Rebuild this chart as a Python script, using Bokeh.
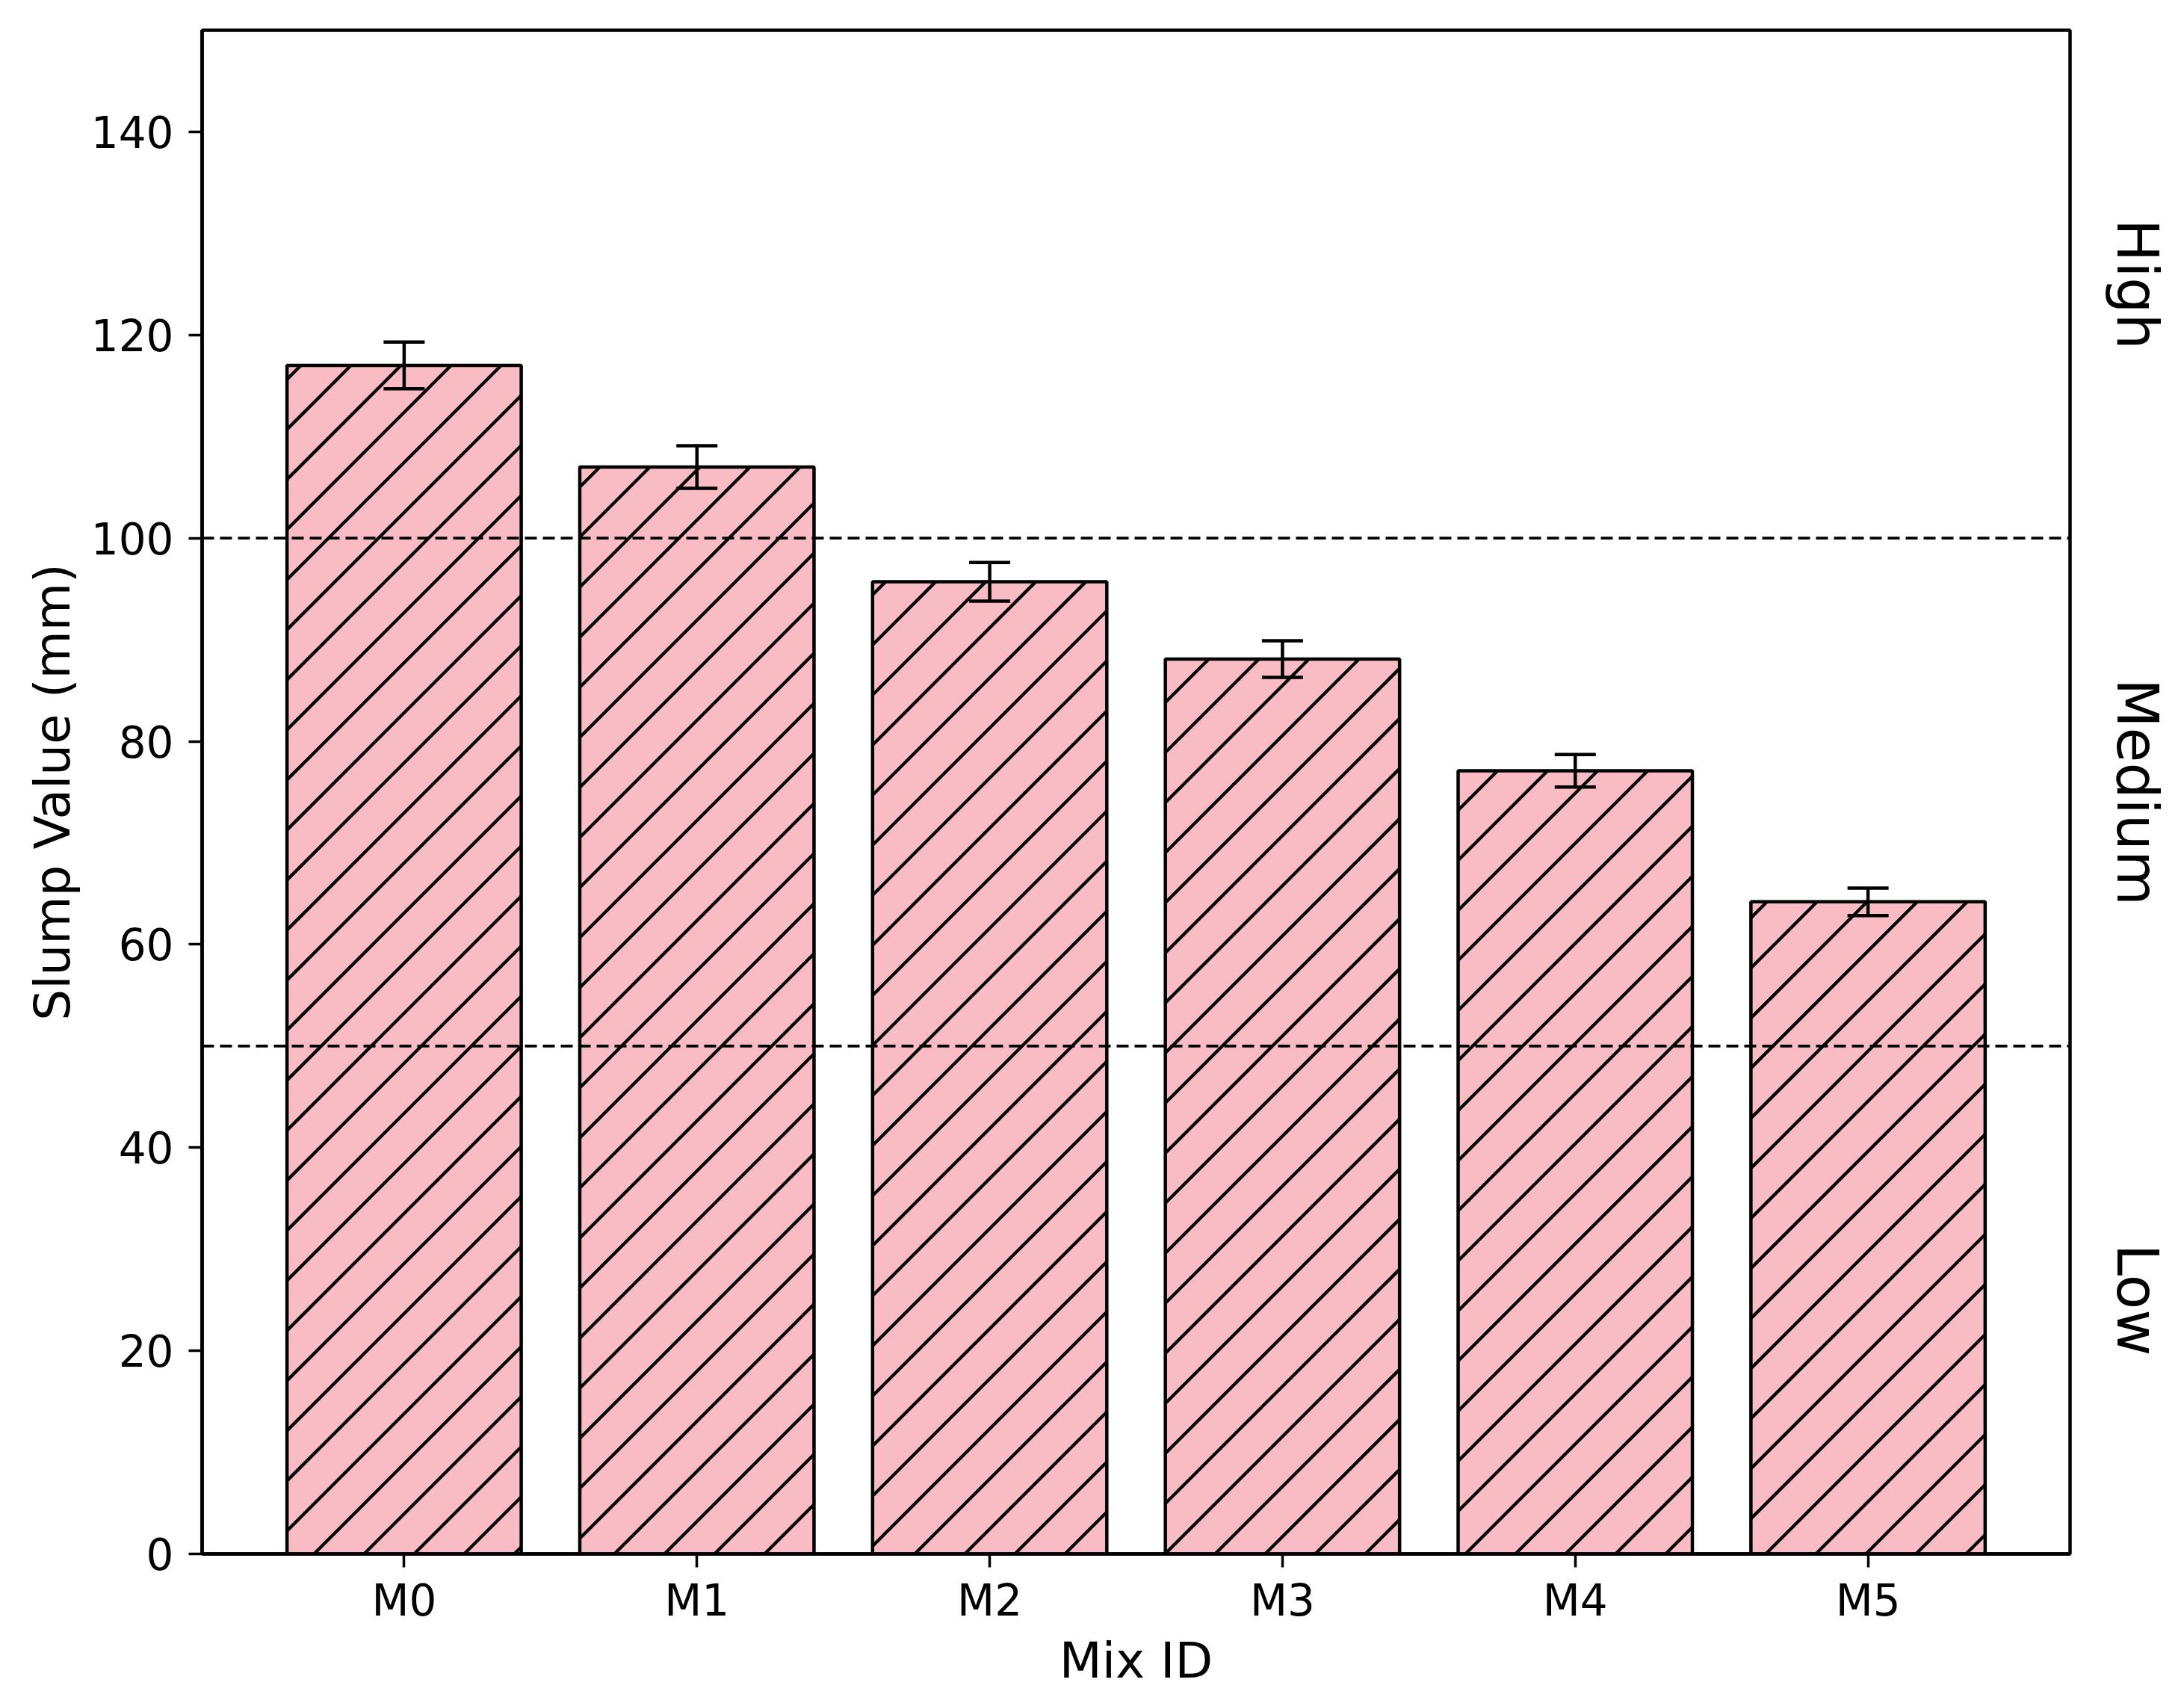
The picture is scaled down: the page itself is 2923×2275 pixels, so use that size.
from bokeh.plotting import figure
from bokeh.models import (ColumnDataSource, Range1d, FixedTicker, Span,
                          Whisker, TeeHead, LinearAxis)
from bokeh.embed import file_html
from bokeh.resources import INLINE

categories = ["M0", "M1", "M2", "M3", "M4", "M5"]
slump = [117.0, 107.0, 95.7, 88.1, 77.1, 64.2]
slump_err = [2.3, 2.1, 1.9, 1.8, 1.6, 1.35]
y_ticks = [0, 20, 40, 60, 80, 100, 120, 140]
thresholds = [100, 50]
zone_names = ["High", "Medium", "Low"]
zone_centers = [125, 75, 25]

FONT = "DejaVu Sans"
BAR_W = 0.8
xs = list(range(len(categories)))
X0, X1 = -0.69, len(categories) - 1 + 0.69
Y0, Y1 = 0, 150
FW, FH = 2500, 2039

src = ColumnDataSource(dict(
    x=xs, top=slump,
    upper=[v + e for v, e in zip(slump, slump_err)],
    lower=[v - e for v, e in zip(slump, slump_err)],
))

# 45-degree "/" hatch lines, clipped to each bar (derived from the bar data)
px_x = FW / (X1 - X0)
px_y = FH / (Y1 - Y0)
k = px_x / px_y               # data-y per data-x for a 45deg screen line
step = 67 / px_x              # ~67 px horizontal spacing
phase = 0.2 * step
hx, hy = [], []
for xc, top in zip(xs, slump):
    bx0, bx1 = xc - BAR_W / 2, xc + BAR_W / 2
    n0 = int((bx0 - top / k) // step) - 2
    n1 = int(bx1 // step) + 2
    for n in range(n0, n1 + 1):
        c = n * step + phase
        xa = max(bx0, c)
        xb = min(bx1, c + top / k)
        if xb - xa > 1e-6:
            hx.append([xa, xb])
            hy.append([k * (xa - c), k * (xb - c)])

p = figure(output_backend="svg", toolbar_location=None,
           frame_width=FW, frame_height=FH,
           min_border_left=270, min_border_top=40,
           min_border_right=140, min_border_bottom=186,
           x_range=Range1d(X0, X1), y_range=Range1d(Y0, Y1))

p.vbar(x="x", top="top", bottom=0, width=BAR_W, source=src,
       fill_color="#f9bbc4", line_color=None)
p.multi_line(hx, hy, line_color="black", line_width=4.3)
p.vbar(x="x", top="top", bottom=0, width=BAR_W, source=src,
       fill_color=None, line_color="black", line_width=4.5)

w = Whisker(base="x", upper="upper", lower="lower", source=src,
            level="overlay", line_color="black", line_width=4.5,
            upper_head=TeeHead(size=55, line_color="black", line_width=4.5),
            lower_head=TeeHead(size=55, line_color="black", line_width=4.5))
p.add_layout(w)

for t in thresholds:
    p.add_layout(Span(location=t, dimension="width", line_color="black",
                      line_width=3.8, line_dash="16 8", level="overlay"))

p.xgrid.visible = False
p.ygrid.visible = False
p.outline_line_color = "black"
p.outline_line_width = 4.5
p.outline_line_alpha = 1.0

p.xaxis.ticker = FixedTicker(ticks=xs)
p.xaxis.major_label_overrides = {i: c for i, c in zip(xs, categories)}
p.yaxis.ticker = FixedTicker(ticks=y_ticks)
p.xaxis.minor_tick_line_color = None
p.yaxis.minor_tick_line_color = None

for ax in (p.xaxis[0], p.yaxis[0]):
    ax.axis_line_color = "black"
    ax.axis_line_width = 4.5
    ax.major_tick_line_color = "black"
    ax.major_tick_line_width = 3.5
    ax.major_tick_out = 18
    ax.major_tick_in = 0
    ax.major_label_text_font = FONT
    ax.major_label_text_font_size = "58px"
    ax.major_label_text_color = "black"
    ax.axis_label_text_font = FONT
    ax.axis_label_text_font_size = "66px"
    ax.axis_label_text_font_style = "normal"
    ax.axis_label_text_color = "black"

p.xaxis.axis_label = "Mix ID"
p.yaxis.axis_label = "Slump Value (mm)"
p.xaxis.major_label_standoff = 10
p.xaxis.axis_label_standoff = 5
p.yaxis.major_label_standoff = 20
p.yaxis.axis_label_standoff = 10

zone_axis = LinearAxis(
    ticker=FixedTicker(ticks=zone_centers),
    major_label_overrides={c: n for c, n in zip(zone_centers, zone_names)},
    axis_line_color=None, major_tick_line_color=None,
    minor_tick_line_color=None, major_tick_out=0, major_tick_in=0,
    major_label_standoff=45, major_label_orientation="parallel",
    major_label_text_font=FONT, major_label_text_font_size="76px",
    major_label_text_color="black")
p.add_layout(zone_axis, "right")

p.background_fill_color = "white"
p.border_fill_color = "white"

open("out.html", "w").write(file_html(p, INLINE))
